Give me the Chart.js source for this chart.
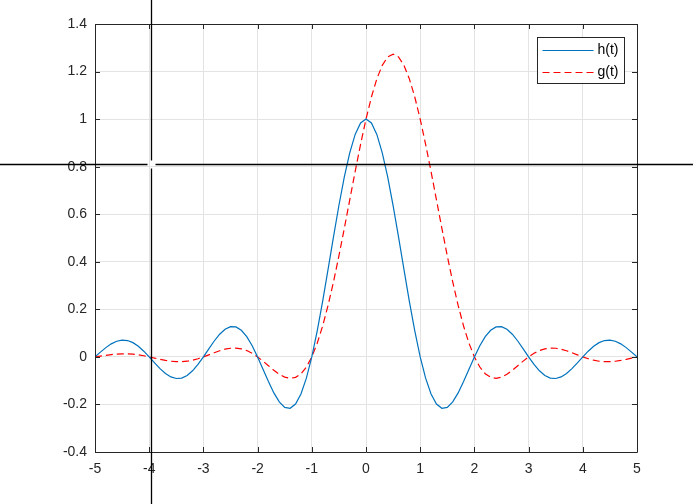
<!DOCTYPE html>
<html>
<head>
<meta charset="utf-8">
<script src="https://cdn.jsdelivr.net/npm/chart.js@4.4.1/dist/chart.umd.min.js"></script>
<style>
  body { margin: 0; background: #fff; }
  #wrap { width: 693px; height: 504px; }
</style>
</head>
<body>
<div id="wrap"><canvas id="chart_sinc" width="693" height="504"></canvas></div>
<script>
// t axis samples
const tVals = [
  -5, -4.9, -4.8, -4.7, -4.6, -4.5, -4.4, -4.3, -4.2, -4.1,
  -4, -3.9, -3.8, -3.7, -3.6, -3.5, -3.4, -3.3, -3.2, -3.1,
  -3, -2.9, -2.8, -2.7, -2.6, -2.5, -2.4, -2.3, -2.2, -2.1,
  -2, -1.9, -1.8, -1.7, -1.6, -1.5, -1.4, -1.3, -1.2, -1.1,
  -1, -0.9, -0.8, -0.7, -0.6, -0.5, -0.4, -0.3, -0.2, -0.1,
  0,
  0.1, 0.2, 0.3, 0.4, 0.5, 0.6, 0.7, 0.8, 0.9, 1,
  1.1, 1.2, 1.3, 1.4, 1.5, 1.6, 1.7, 1.8, 1.9, 2,
  2.1, 2.2, 2.3, 2.4, 2.5, 2.6, 2.7, 2.8, 2.9, 3,
  3.1, 3.2, 3.3, 3.4, 3.5, 3.6, 3.7, 3.8, 3.9, 4,
  4.1, 4.2, 4.3, 4.4, 4.5, 4.6, 4.7, 4.8, 4.9, 5
];

// h(t)
const hVals = [
  0, 0.02007, 0.03898, 0.05479, 0.06581, 0.07074, 0.06880, 0.05989, 0.04455, 0.02399,
  0, -0.02522, -0.04924, -0.06960, -0.08409, -0.09095, -0.08904, -0.07804, -0.05847, -0.03173,
  0, 0.03392, 0.06682, 0.09538, 0.11644, 0.12732, 0.12614, 0.11196, 0.08504, 0.04684,
  0, -0.05177, -0.10394, -0.15148, -0.18921, -0.21221, -0.21624, -0.19809, -0.15591, -0.08942,
  0, 0.10929, 0.23387, 0.36788, 0.50455, 0.63662, 0.75683, 0.85839, 0.93549, 0.98363,
  1,
  0.98363, 0.93549, 0.85839, 0.75683, 0.63662, 0.50455, 0.36788, 0.23387, 0.10929, 0,
  -0.08942, -0.15591, -0.19809, -0.21624, -0.21221, -0.18921, -0.15148, -0.10394, -0.05177, 0,
  0.04684, 0.08504, 0.11196, 0.12614, 0.12732, 0.11644, 0.09538, 0.06682, 0.03392, 0,
  -0.03173, -0.05847, -0.07804, -0.08904, -0.09095, -0.08409, -0.06960, -0.04924, -0.02522, 0,
  0.02399, 0.04455, 0.05989, 0.06880, 0.07074, 0.06581, 0.05479, 0.03898, 0.02007, 0
];

// g(t)
const gVals = [
  0, 0.0034, 0.0067, 0.0096, 0.0118, 0.0129, 0.0127, 0.0113, 0.0086, 0.0047,
  0, -0.0052, -0.0103, -0.0148, -0.0183, -0.0202, -0.0202, -0.0182, -0.0139, -0.0077,
  0, 0.0087, 0.0176, 0.0258, 0.0324, 0.0364, 0.0371, 0.0339, 0.0266, 0.0151,
  0, -0.0179, -0.0371, -0.0561, -0.0728, -0.0849, -0.0901, -0.0861, -0.0709, -0.0426,
  0, 0.0575, 0.1299, 0.2164, 0.3153, 0.4244, 0.5406, 0.6603, 0.7796, 0.8942,
  1,
  1.0929, 1.1694, 1.2263, 1.2614, 1.2732, 1.2614, 1.2263, 1.1694, 1.0929, 1,
  0.8942, 0.7796, 0.6603, 0.5406, 0.4244, 0.3153, 0.2164, 0.1299, 0.0575, 0,
  -0.0426, -0.0709, -0.0861, -0.0901, -0.0849, -0.0728, -0.0561, -0.0371, -0.0179, 0,
  0.0151, 0.0266, 0.0339, 0.0371, 0.0364, 0.0324, 0.0258, 0.0176, 0.0087, 0,
  -0.0077, -0.0139, -0.0182, -0.0202, -0.0202, -0.0183, -0.0148, -0.0103, -0.0052, 0
];

const xTicks = [-5, -4, -3, -2, -1, 0, 1, 2, 3, 4, 5];
const yTicks = [-0.4, -0.2, 0, 0.2, 0.4, 0.6, 0.8, 1, 1.2, 1.4];
const yTickLabels = ['-0.4', '-0.2', '0', '0.2', '0.4', '0.6', '0.8', '1', '1.2', '1.4'];
const seriesLabels = ['h(t)', 'g(t)'];

// cursor crosshair position (data units)
const cursorX = -3.96;
const cursorY = 0.812;

const axisColor = '#262626';
const fontFamily = '"Liberation Sans", Arial, sans-serif';

const frameTicks = {
    id: 'frameTicks',
    afterDatasetsDraw(chart) {
        const ctx = chart.ctx;
        const a = chart.chartArea;
        const xs = chart.scales.x, ys = chart.scales.y;
        ctx.save();
        ctx.strokeStyle = axisColor;
        ctx.lineWidth = 1;
        ctx.beginPath();
        ctx.rect(Math.round(a.left) + 0.5, Math.round(a.top) + 0.5,
            Math.round(a.right - a.left), Math.round(a.bottom - a.top));
        ctx.stroke();
        ctx.beginPath();
        xTicks.forEach(v => {
            const px = Math.round(xs.getPixelForValue(v)) + 0.5;
            ctx.moveTo(px, a.bottom); ctx.lineTo(px, a.bottom - 5);
            ctx.moveTo(px, a.top); ctx.lineTo(px, a.top + 5);
        });
        yTicks.forEach(v => {
            const py = Math.round(ys.getPixelForValue(v)) + 0.5;
            ctx.moveTo(a.left, py); ctx.lineTo(a.left + 5, py);
            ctx.moveTo(a.right, py); ctx.lineTo(a.right - 5, py);
        });
        ctx.stroke();
        ctx.restore();
    },
    afterDraw(chart) {
        const ctx = chart.ctx;
        const a = chart.chartArea;
        // legend box
        const w = 87, h = 46;
        const lx = Math.round(a.right - 13 - w) + 0.5;
        const ly = Math.round(a.top + 13) + 0.5;
        ctx.save();
        ctx.fillStyle = '#fff';
        ctx.fillRect(lx, ly, w, h);
        ctx.strokeStyle = axisColor;
        ctx.lineWidth = 1;
        ctx.strokeRect(lx, ly, w, h);
        ctx.font = '14px ' + fontFamily;
        ctx.textBaseline = 'middle';
        ctx.fillStyle = '#000';
        chart.data.datasets.forEach((ds, i) => {
            const y = Math.round(ly + 12 + i * 22) + 0.5;
            ctx.strokeStyle = ds.borderColor;
            ctx.lineWidth = 1.2;
            ctx.setLineDash(ds.borderDash || []);
            ctx.beginPath();
            ctx.moveTo(lx + 5, y); ctx.lineTo(lx + 56, y);
            ctx.stroke();
            ctx.setLineDash([]);
            ctx.fillText(ds.label, lx + 60, y);
        });

        // crosshair cursor over the whole figure
        const cx = Math.round(chart.scales.x.getPixelForValue(cursorX)) + 0.5;
        const cy = Math.round(chart.scales.y.getPixelForValue(cursorY)) + 0.5;
        const gap = 4;
        ctx.strokeStyle = '#000';
        ctx.lineWidth = 1.3;
        ctx.beginPath();
        ctx.moveTo(0, cy); ctx.lineTo(cx - gap, cy);
        ctx.moveTo(cx + gap, cy); ctx.lineTo(chart.width, cy);
        ctx.moveTo(cx, 0); ctx.lineTo(cx, cy - gap);
        ctx.moveTo(cx, cy + gap); ctx.lineTo(cx, chart.height);
        ctx.stroke();
        ctx.restore();
    }
};

new Chart(document.getElementById('chart_sinc'), {
    type: 'line',
    data: {
        datasets: [
            {
                label: seriesLabels[0],
                data: tVals.map((t, i) => ({ x: t, y: hVals[i] })),
                borderColor: '#0072BD',
                borderWidth: 1.2,
                pointRadius: 0,
                tension: 0
            },
            {
                label: seriesLabels[1],
                data: tVals.map((t, i) => ({ x: t, y: gVals[i] })),
                borderColor: '#FF0000',
                borderWidth: 1.2,
                borderDash: [7, 4],
                pointRadius: 0,
                tension: 0
            }
        ]
    },
    plugins: [frameTicks],
    options: {
        responsive: false,
        animation: false,
        layout: { padding: { left: 0, right: 56, top: 24, bottom: 0 } },
        scales: {
            x: {
                type: 'linear',
                min: -5,
                max: 5,
                afterBuildTicks: axis => { axis.ticks = xTicks.map(v => ({ value: v })); },
                afterFit: axis => { axis.height = 52; },
                grid: { color: '#e3e3e3', drawTicks: false },
                border: { display: false },
                ticks: {
                    padding: 9,
                    color: axisColor,
                    font: { family: fontFamily, size: 14 },
                    maxRotation: 0,
                    callback: value => String(value)
                }
            },
            y: {
                type: 'linear',
                min: -0.4,
                max: 1.4,
                afterBuildTicks: axis => { axis.ticks = yTicks.map(v => ({ value: v })); },
                afterFit: axis => { axis.width = 95; },
                grid: { color: '#e3e3e3', drawTicks: false },
                border: { display: false },
                ticks: {
                    padding: 8,
                    color: axisColor,
                    font: { family: fontFamily, size: 14 },
                    callback: (value, index) => yTickLabels[index]
                }
            }
        },
        plugins: {
            legend: { display: false },
            tooltip: { enabled: false }
        }
    }
});
</script>
</body>
</html>
